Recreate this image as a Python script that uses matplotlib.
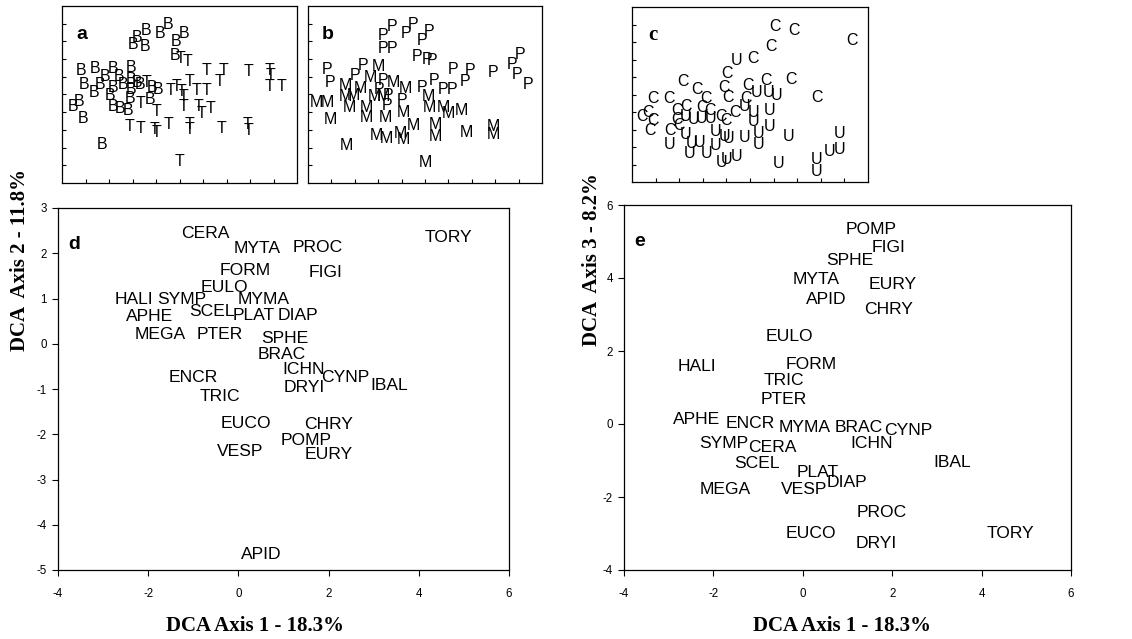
import matplotlib
matplotlib.use("Agg")
import matplotlib.pyplot as plt

plt.rcParams['font.family'] = ['Liberation Sans', 'DejaVu Sans']
plt.rcParams['axes.unicode_minus'] = False

# --- panel a: sites (B / T) on DCA axes 1 and 2
a_B_x = [-0.43, -0.79, -0.96, -0.47, 0.17, 0.52, 1.19, 0.85, 0.81, -3.21, -2.60, -1.82,
         -1.06, -2.17, -1.56, -1.04, -0.79, -3.06, -2.38, -2.64, -1.82, -1.39, -1.96, -1.04,
         -1.11, -0.68, -0.18, 0.10, -0.26, -3.52, -3.26, -3.09, -1.84, -1.53, -1.18, -2.31]
a_B_y = [2.64, 2.23, 1.80, 1.74, 2.42, 2.93, 2.42, 1.98, 1.18, 0.38, 0.48, 0.48,
         0.52, 0.01, 0.01, -0.18, -0.33, -0.46, -0.46, -0.90, -0.60, -0.46, -1.08, -0.71,
         -1.24, -0.46, -0.60, -0.71, -1.31, -1.65, -1.40, -2.35, -1.69, -1.78, -1.88, -3.85]
a_T_x = [1.05, 1.33, -0.40, 0.60, 0.88, 1.09, 1.42, 1.73, 2.13, 2.70, 2.89, 2.16,
         3.93, 4.82, 4.88, 4.85, 5.35, 1.19, 1.19, 1.80, 1.94, 2.33, -0.65, 0.03,
         -1.11, -0.68, -0.07, 0.03, 0.52, 1.42, 1.42, 2.79, 3.89, 3.93, 0.99]
a_T_y = [1.04, 0.89, -0.33, -0.78, -0.52, -0.84, -0.24, -0.78, -0.78, -0.27, 0.35, 0.35,
         0.29, 0.35, 0.05, -0.56, -0.56, -1.12, -1.65, -1.65, -2.10, -1.78, -1.50, -1.97,
         -2.78, -2.91, -2.97, -3.16, -2.72, -2.67, -2.97, -2.91, -2.72, -3.01, -4.79]

# --- panel b: sites (P / M)
b_P_x = [-3.20, -3.06, -0.42, -0.81, 0.50, 0.19, 1.18, 0.86, -0.81, -0.42, 0.65, 1.07,
         1.29, 5.06, 4.71, 4.92, 5.41, 2.18, 2.92, 3.89, 2.71, -1.66, -1.99, -0.78,
         -0.95, -0.57, 0.00, -0.64, 0.86, 1.38, 1.78, 2.14]
b_P_y = [0.41, -0.35, 2.87, 2.36, 2.98, 2.45, 2.54, 2.03, 1.60, 1.60, 1.16, 0.98,
         0.94, 1.28, 0.71, 0.14, -0.42, 0.41, 0.37, 0.27, -0.24, 0.65, 0.09, -0.20,
         -0.72, -1.05, -1.33, -1.62, -0.61, -0.20, -0.72, -0.72]
b_M_x = [-1.00, -1.35, -0.35, 0.15, -0.78, -1.14, 0.07, -0.71, -1.49, -1.49, -2.21, -2.42,
         -1.78, -2.06, -2.42, 1.14, 1.21, 1.78, 2.00, 2.57, 0.50, 1.43, 1.43, -1.06,
         -0.64, -0.07, 0.07, 2.78, 3.92, 3.92, -2.35, 1.00, -3.63, -3.18, -3.03]
b_M_y = [0.56, -0.04, -0.35, -0.67, -1.14, -1.14, -2.00, -2.28, -1.75, -2.28, -1.71, -0.48,
         -0.67, -1.05, -1.14, -1.14, -1.71, -1.71, -2.09, -1.90, -2.75, -2.69, -3.37, -3.32,
         -3.50, -3.22, -3.56, -3.13, -2.81, -3.26, -3.88, -4.83, -1.43, -1.43, -2.43]

# --- panel c: sites (C / U) on DCA axes 1 and 3
c_C_x = [2.06, 2.86, 5.31, 1.88, 1.14, 0.01, -1.82, -1.23, -0.86, -0.10, 0.08, 0.93,
         1.66, 2.72, 0.83, 3.82, -3.10, -2.42, -3.59, -3.31, -3.10, -3.24, -2.08, -1.71,
         -2.08, -1.99, -2.39, -1.05, -0.69, -0.24, -0.02, 0.36]
c_C_y = [4.88, 4.63, 4.11, 3.73, 3.07, 2.21, 1.73, 1.26, 0.78, 1.41, 0.84, 1.54,
         1.79, 1.83, 0.78, 0.82, 0.78, 0.78, -0.23, -0.04, -0.46, -1.07, 0.06, 0.34,
         -0.42, -0.80, -1.03, 0.27, 0.11, -0.27, -0.46, -0.04]
c_U_x = [0.44, 1.28, 1.78, 2.13, 0.79, -1.75, -1.40, -1.05, -0.69, 1.14, 1.85, 1.14,
         1.85, -0.48, -0.06, 0.08, 0.75, 1.37, 1.35, 2.65, -2.39, -1.71, -1.47, -1.12,
         -1.54, -0.86, -0.48, 0.01, 0.44, -0.20, 2.20, 3.80, 3.82, 4.36, 4.79, 4.81]
c_U_y = [2.97, 1.10, 1.10, 0.97, 0.30, -0.27, -0.42, -0.36, -0.36, -0.04, 0.11, -0.55,
         -0.84, -1.12, -1.41, -1.50, -1.45, -1.22, -1.83, -1.41, -1.83, -1.31, -1.79, -1.76,
         -2.40, -2.36, -1.94, -2.74, -2.55, -2.90, -2.93, -2.74, -3.41, -2.27, -1.22, -2.17]

# --- panels d / e: taxa scores
taxa = ['CERA', 'MYTA', 'PROC', 'TORY', 'FORM', 'FIGI', 'EULO', 'HALI', 'SYMP', 'MYMA',
        'APHE', 'SCEL', 'PLAT', 'DIAP', 'MEGA', 'PTER', 'SPHE', 'BRAC', 'ICHN', 'CYNP',
        'IBAL', 'DRYI', 'ENCR', 'TRIC', 'EUCO', 'CHRY', 'POMP', 'EURY', 'VESP', 'APID']
axis1 = [-0.73, 0.42, 1.76, 4.65, 0.16, 1.93, -0.32, -2.32, -1.25, 0.57,
         -1.97, -0.58, 0.33, 1.31, -1.74, -0.42, 1.04, 0.97, 1.44, 2.38,
         3.34, 1.45, -1.00, -0.42, 0.17, 1.99, 1.51, 2.00, 0.04, 0.51]
axis2 = [2.44, 2.11, 2.13, 2.34, 1.61, 1.58, 1.24, 0.98, 0.98, 0.97,
         0.60, 0.71, 0.63, 0.63, 0.21, 0.21, 0.12, -0.24, -0.56, -0.74,
         -0.93, -0.97, -0.75, -1.16, -1.76, -1.78, -2.13, -2.45, -2.39, -4.65]
e_axis1 = [-0.69, 0.30, 1.76, 4.64, 0.18, 1.92, -0.30, -2.37, -1.77, 0.03,
           -2.37, -1.03, 0.34, 0.99, -1.74, -0.42, 1.06, 1.25, 1.54, 2.37,
           3.34, 1.64, -1.17, -0.42, 0.18, 1.92, 1.53, 2.02, 0.02, 0.52]
axis3 = [-0.64, 3.97, -2.42, -3.00, 1.64, 4.84, 2.39, 1.58, -0.54, -0.09,
         0.13, -1.08, -1.33, -1.60, -1.79, 0.66, 4.47, -0.09, -0.54, -0.18,
         -1.05, -3.28, 0.00, 1.19, -3.00, 3.15, 5.34, 3.81, -1.79, 3.40]

W, H = 1132, 639
fig = plt.figure(figsize=(W / 100, H / 100), dpi=100)


def box(l, t, r, b):
    return [l / W, 1 - b / H, (r - l) / W, (b - t) / H]


def small_panel(rect, ylim, groups, letter, serif=False):
    ax = fig.add_axes(rect)
    for xs, ys, ch in groups:
        for x, y in zip(xs, ys):
            ax.text(x, y, ch, ha='center', va='center', fontsize=11.5)
    ax.set_xlim(-4, 6)
    ax.set_ylim(*ylim)
    ax.set_xticks(range(-3, 6))
    ax.set_yticks(range(int(ylim[0]) + 1, int(ylim[1])))
    ax.tick_params(direction='in', length=3, width=0.8, labelleft=False, labelbottom=False)
    for s in ax.spines.values():
        s.set_linewidth(0.9)
    if serif:
        ax.text(0.09, 0.84, letter, transform=ax.transAxes, ha='center', va='center',
                fontsize=15, fontweight='bold', family='Liberation Serif')
    else:
        ax.text(0.085, 0.84, letter, transform=ax.transAxes, ha='center', va='center',
                fontsize=14, fontweight='bold')
    return ax


small_panel(box(62, 6, 297, 183), (-6, 4), [(a_B_x, a_B_y, 'B'), (a_T_x, a_T_y, 'T')], 'a')
small_panel(box(308, 6, 542, 183), (-6, 4), [(b_P_x, b_P_y, 'P'), (b_M_x, b_M_y, 'M')], 'b')
small_panel(box(632, 7, 868, 182), (-4, 6), [(c_C_x, c_C_y, 'C'), (c_U_x, c_U_y, 'U')], 'c',
            serif=True)


def big_panel(rect, xs, ys, ylim, letter, ylabel_x, xlabel_x, ylabel):
    ax = fig.add_axes(rect)
    for name, x, y in zip(taxa, xs, ys):
        ax.text(x, y, name, ha='center', va='center', fontsize=12.6)
    ax.set_xlim(-4, 6)
    ax.set_ylim(*ylim)
    ax.set_xticks(range(-4, 7, 2))
    ax.tick_params(direction='out', length=4, width=0.8, labelsize=8.3)
    ax.tick_params(axis='x', pad=9)
    ax.tick_params(axis='y', pad=4)
    for s in ax.spines.values():
        s.set_linewidth(0.9)
    ax.text(0.035, 0.9, letter, transform=ax.transAxes, ha='center', va='center',
            fontsize=14, fontweight='bold')
    fig.text(ylabel_x / W, 1 - 260 / H, ylabel, rotation=90, ha='center', va='center',
             fontsize=15, fontweight='bold', family='Liberation Serif')
    fig.text(xlabel_x / W, 1 - 626 / H, 'DCA Axis 1 - 18.3%', ha='center', va='center',
             fontsize=15, fontweight='bold', family='Liberation Serif')
    return ax


axd = big_panel(box(58, 208, 509, 570), axis1, axis2, (-5, 3), 'd', 20, 255,
                'DCA  Axis 2 - 11.8%')
axd.set_yticks(range(-5, 4))
axe = big_panel(box(624, 205, 1071, 570), e_axis1, axis3, (-4, 6), 'e', 592, 842,
                'DCA  Axis 3 - 8.2%')
axe.set_yticks(range(-4, 7, 2))

fig.savefig('out.png', dpi=100)
